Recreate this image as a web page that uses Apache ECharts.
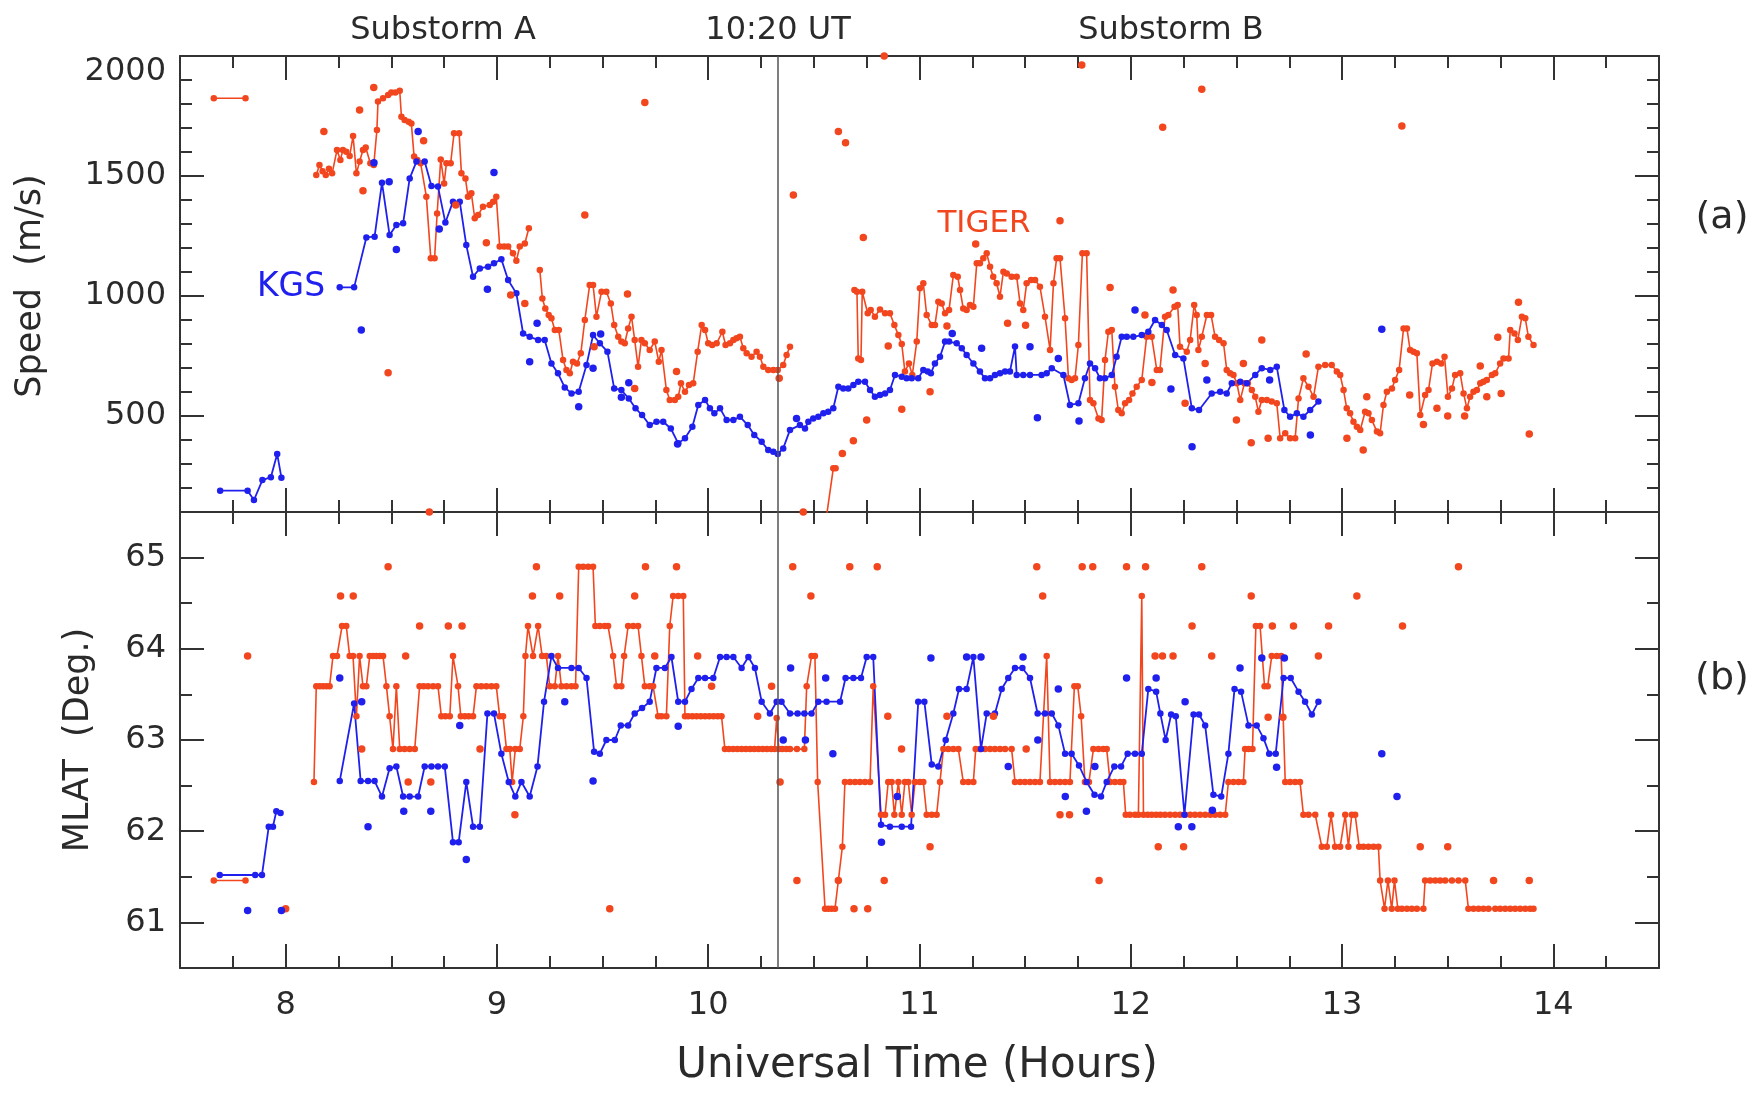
<!DOCTYPE html>
<html lang="en">
<head>
<meta charset="utf-8">
<script src="https://cdn.jsdelivr.net/npm/echarts@6/dist/echarts.min.js"></script>
<style>
    html, body { margin: 0; padding: 0; background: #fff; }
    #chart { width: 1760px; height: 1094px; }
</style>
</head>
<body>
<div id="chart"></div>
<script>
    // tick labels
    const xTicks = [8, 9, 10, 11, 12, 13, 14];
    const speedTicks = [500, 1000, 1500, 2000];
    const mlatTicks = [61, 62, 63, 64, 65];
    const onsetTime = 10.333; // 10:20 UT

    // (a) speed, TIGER radar: connected trace (null = gap) and loose points
    const tigerSpeedTrace = [
        [7.66, 1824], [7.81, 1824], null,
        [8.145, 1504], [8.16, 1546], [8.175, 1520], [8.19, 1504], [8.205, 1530], [8.22, 1511], [8.243, 1608], [8.259, 1567],
        [8.271, 1608], [8.287, 1601], [8.303, 1583], [8.319, 1667], [8.335, 1511], [8.35, 1560], [8.366, 1608], [8.379, 1619],
        [8.401, 1553], [8.417, 1546], [8.432, 1692], [8.437, 1810], [8.461, 1824], [8.485, 1837], [8.5, 1848], [8.519, 1848],
        [8.54, 1855], [8.548, 1747], [8.563, 1733], [8.582, 1726], [8.595, 1719], [8.608, 1581], [8.623, 1567], [8.639, 1553],
        [8.666, 1414], [8.687, 1157], [8.705, 1157], [8.717, 1344], [8.734, 1569], [8.75, 1469], [8.761, 1553], [8.781, 1553],
        [8.797, 1678], [8.821, 1678], [8.832, 1511], [8.851, 1490], [8.863, 1414], [8.879, 1428], [8.895, 1324], [8.911, 1337],
        [8.934, 1372], [8.966, 1379], [8.982, 1393], [8.997, 1414], [9.013, 1206], [9.034, 1206], [9.053, 1206], [9.076, 1178],
        [9.092, 1147], [9.108, 1206], [9.132, 1219], [9.151, 1282], null,
        [9.203, 1108], [9.215, 990], [9.229, 948], [9.245, 921], [9.258, 907], [9.274, 858], [9.293, 858], [9.313, 733],
        [9.329, 692], [9.345, 678], [9.36, 726], [9.379, 719], [9.397, 761], [9.416, 900], [9.439, 1046], [9.455, 1046],
        [9.471, 914], [9.495, 1018], [9.518, 1018], [9.539, 969], [9.555, 879], [9.574, 830], [9.589, 810], [9.605, 803],
        [9.621, 865], [9.637, 914], [9.652, 817], [9.668, 705], [9.684, 817], [9.7, 803], [9.723, 775], [9.747, 810],
        [9.766, 726], [9.779, 775], [9.802, 608], [9.818, 567], [9.842, 567], [9.858, 580], [9.871, 636], [9.89, 601],
        [9.909, 629], [9.929, 636], [9.95, 768], [9.969, 879], [9.985, 858], [10.0, 803], [10.019, 796], [10.04, 803],
        [10.067, 851], [10.082, 796], [10.103, 803], [10.119, 817], [10.134, 824], [10.15, 830], [10.166, 782], [10.182, 761],
        [10.205, 747], [10.229, 768], [10.245, 747], [10.261, 705], [10.284, 692], [10.308, 692], [10.329, 692], [10.355, 712],
        [10.371, 754], [10.387, 789], null,
        [10.55, 20], [10.592, 282], [10.603, 282], null,
        [10.692, 1025], [10.704, 1018], [10.71, 740], [10.723, 733], [10.729, 1018], [10.755, 928], [10.769, 942], [10.789, 914],
        [10.813, 944], [10.837, 928], [10.86, 928], [10.881, 879], [10.9, 837], [10.916, 800], [10.931, 685], [10.95, 719],
        [10.966, 671], [10.987, 810], [11.002, 1032], [11.018, 1053], [11.034, 921], [11.058, 879], [11.073, 879], [11.089, 976],
        [11.105, 969], [11.121, 928], [11.14, 942], [11.16, 1087], [11.181, 1080], [11.192, 1025], [11.207, 948], [11.223, 942],
        [11.239, 962], [11.255, 955], [11.271, 1136], [11.286, 1136], [11.302, 1157], [11.318, 1178], [11.334, 1122], [11.349, 1080],
        [11.365, 1053], [11.381, 997], [11.397, 1101], [11.413, 1094], [11.436, 1080], [11.46, 1080], [11.476, 969], [11.491, 942],
        [11.507, 1053], [11.528, 1067], [11.547, 1067], [11.57, 1039], [11.594, 914], [11.618, 775], [11.634, 1053], [11.649, 1157],
        [11.665, 1157], [11.689, 907], [11.705, 657], [11.72, 650], [11.736, 657], [11.752, 796], [11.771, 1178], [11.791, 1178],
        [11.807, 567], [11.823, 553], [11.847, 490], [11.862, 483], [11.878, 733], [11.894, 851], [11.91, 858], [11.925, 622],
        [11.941, 525], [11.957, 511], [11.973, 553], [11.992, 567], [12.008, 594], [12.028, 622], [12.052, 650], [12.075, 830],
        [12.099, 830], [12.123, 692], [12.138, 692], [12.162, 914], [12.178, 921], [12.207, 955], [12.222, 962], [12.233, 789],
        [12.265, 768], [12.281, 817], [12.3, 962], [12.312, 921], [12.32, 775], [12.336, 830], [12.36, 921], [12.38, 921],
        [12.399, 830], [12.418, 817], [12.439, 803], [12.454, 692], [12.47, 678], [12.486, 671], [12.502, 636], [12.518, 567],
        [12.538, 636], [12.554, 636], [12.573, 608], [12.589, 580], [12.604, 518], [12.62, 567], [12.644, 567], [12.667, 560],
        [12.691, 553], [12.707, 407], [12.731, 428], [12.754, 407], [12.778, 407], [12.794, 573], [12.817, 657], [12.841, 622],
        [12.865, 580], [12.888, 705], [12.92, 712], [12.951, 712], [12.975, 685], [12.991, 671], [13.007, 608], [13.022, 532],
        [13.038, 511], [13.054, 476], [13.07, 455], [13.086, 442], [13.109, 518], [13.125, 511], [13.141, 483], [13.165, 435],
        [13.18, 428], [13.196, 546], [13.212, 601], [13.236, 615], [13.251, 650], [13.27, 692], [13.291, 865], [13.307, 865],
        [13.322, 775], [13.338, 768], [13.354, 761], [13.37, 504], [13.393, 587], [13.409, 608], [13.428, 719], [13.449, 726],
        [13.469, 719], [13.485, 747], [13.501, 580], [13.52, 615], [13.535, 671], [13.559, 678], [13.575, 594], [13.591, 532],
        [13.606, 580], [13.622, 601], [13.638, 608], [13.654, 636], [13.669, 643], [13.685, 650], [13.709, 671], [13.725, 678],
        [13.748, 719], [13.764, 740], [13.788, 740], [13.796, 858], [13.816, 844], [13.832, 817], [13.851, 914], [13.867, 907],
        [13.882, 830], [13.906, 796]
    ];
    const tigerSpeedDots = [
        [8.181, 1685], [8.35, 1775], [8.366, 1439], [8.417, 1869], [8.485, 680], [8.653, 1647], [8.68, 100], [8.805, 1379],
        [8.95, 1222], [9.065, 1004], [9.132, 969], [9.416, 1337], [9.46, 789], [9.618, 1008], [9.652, 615], [9.7, 1806],
        [9.85, 685], [10.336, 657], [10.403, 1421], [10.45, 100], [10.616, 1685], [10.65, 1639], [10.635, 344], [10.687, 397],
        [10.75, 483], [10.734, 1244], [10.833, 2000], [10.852, 792], [10.916, 528], [11.05, 601], [11.13, 875], [11.266, 1217],
        [11.417, 886], [11.502, 878], [11.665, 1314], [11.768, 1962], [11.902, 1035], [12.067, 921], [12.1, 640], [12.151, 1703],
        [12.2, 1025], [12.257, 553], [12.336, 1861], [12.352, 719], [12.5, 483], [12.533, 719], [12.57, 389], [12.62, 817],
        [12.65, 407], [12.83, 758], [13.023, 407], [13.1, 358], [13.117, 580], [13.283, 1708], [13.32, 587], [13.385, 465],
        [13.449, 532], [13.5, 500], [13.58, 500], [13.654, 708], [13.685, 580], [13.737, 828], [13.753, 594], [13.835, 974],
        [13.886, 425]
    ];

    // (a) speed, KGS radar
    const kgsSpeedTrace = [
        [7.69, 189], [7.82, 189], [7.85, 150], [7.89, 233], [7.93, 245], [7.96, 342], [7.98, 243], null,
        [8.256, 1036], [8.324, 1036], [8.382, 1244], [8.421, 1247], [8.456, 1472], [8.492, 1254], [8.524, 1296], [8.556, 1303],
        [8.587, 1490], [8.619, 1560], [8.658, 1560], [8.69, 1458], [8.721, 1456], [8.756, 1306], [8.792, 1393], [8.824, 1393],
        [8.855, 1212], [8.887, 1080], [8.919, 1115], [8.958, 1122], [8.986, 1136], [9.021, 1153], [9.053, 1067], [9.092, 1011],
        [9.124, 844], [9.155, 830], [9.195, 817], [9.226, 817], [9.258, 719], [9.289, 678], [9.321, 619], [9.353, 594],
        [9.387, 601], [9.424, 712], [9.455, 837], [9.487, 803], [9.523, 768], [9.555, 615], [9.589, 608], [9.624, 573],
        [9.656, 532], [9.687, 504], [9.723, 462], [9.755, 476], [9.787, 476], [9.823, 448], [9.858, 386], [9.89, 407],
        [9.925, 455], [9.953, 546], [9.985, 567], [10.008, 532], [10.029, 511], [10.056, 532], [10.087, 483], [10.119, 483],
        [10.15, 497], [10.187, 462], [10.218, 421], [10.253, 393], [10.284, 358], [10.308, 351], [10.329, 342], [10.355, 365],
        [10.387, 442], [10.434, 462], [10.458, 448], [10.474, 476], [10.497, 490], [10.521, 497], [10.545, 511], [10.568, 518],
        [10.592, 532], [10.616, 622], [10.639, 615], [10.663, 615], [10.687, 629], [10.71, 643], [10.742, 643], [10.766, 608],
        [10.789, 580], [10.813, 587], [10.837, 594], [10.86, 608], [10.884, 671], [10.916, 664], [10.939, 657], [10.963, 657],
        [10.994, 657], [11.018, 692], [11.039, 685], [11.054, 678], [11.073, 719], [11.097, 747], [11.121, 810], [11.14, 810],
        [11.176, 803], [11.2, 782], [11.223, 754], [11.255, 719], [11.286, 685], [11.31, 657], [11.334, 657], [11.357, 671],
        [11.381, 678], [11.405, 685], [11.428, 685], [11.452, 790], [11.46, 671], [11.491, 671], [11.523, 671], [11.578, 671],
        [11.602, 678], [11.626, 699], [11.681, 671], [11.712, 546], [11.752, 553], [11.783, 657], [11.807, 719], [11.831, 699],
        [11.854, 657], [11.878, 657], [11.91, 671], [11.933, 747], [11.957, 830], [11.981, 830], [12.012, 830], [12.052, 837],
        [12.083, 851], [12.115, 900], [12.147, 879], [12.17, 858], [12.21, 754], [12.249, 740], [12.289, 532], [12.323, 525],
        [12.383, 594], [12.423, 601], [12.454, 594], [12.478, 636], [12.518, 643], [12.549, 636], [12.589, 671], [12.62, 699],
        [12.66, 692], [12.691, 705], [12.727, 525], [12.754, 497], [12.786, 511], [12.817, 497], [12.849, 525], [12.888, 560]
    ];
    const kgsSpeedDots = [
        [8.358, 858], [8.418, 1555], [8.49, 1476], [8.524, 1194], [8.627, 1685], [8.727, 1279], [8.986, 1515], [8.955, 1028],
        [9.155, 726], [9.19, 886], [9.387, 539], [9.455, 699], [9.491, 842], [9.589, 578], [9.624, 639], [9.855, 383],
        [10.418, 490], [11.155, 844], [11.294, 782], [11.523, 789], [11.558, 493], [11.657, 740], [11.755, 479], [12.02, 942],
        [12.19, 612], [12.29, 372], [12.36, 650], [12.657, 650], [12.85, 421], [13.188, 861]
    ];

    // (b) MLAT, TIGER radar
    const tigerMlatTrace = [
        [7.66, 61.46], [7.81, 61.46], null,
        [8.134, 62.54], [8.145, 63.59], [8.161, 63.59], [8.177, 63.59], [8.193, 63.59], [8.208, 63.59], [8.224, 63.92], [8.243, 63.92],
        [8.267, 64.25], [8.287, 64.25], [8.303, 63.92], [8.319, 63.92], [8.335, 63.26], [8.35, 63.92], [8.366, 63.59], [8.382, 63.59],
        [8.398, 63.92], [8.414, 63.92], [8.429, 63.92], [8.445, 63.92], [8.461, 63.92], [8.477, 63.59], [8.492, 63.26], [8.508, 62.9],
        [8.524, 63.59], [8.54, 62.9], [8.563, 62.9], [8.587, 62.9], [8.611, 62.9], [8.634, 63.59], [8.653, 63.59], [8.674, 63.59],
        [8.698, 63.59], [8.721, 63.59], [8.737, 63.26], [8.756, 63.26], [8.777, 63.26], [8.792, 63.92], [8.816, 63.59], [8.829, 63.26],
        [8.848, 63.26], [8.866, 63.26], [8.887, 63.26], [8.903, 63.59], [8.926, 63.59], [8.95, 63.59], [8.974, 63.59], [8.997, 63.59],
        [9.013, 63.26], [9.029, 63.26], [9.045, 62.9], [9.061, 62.9], [9.072, 62.54], [9.087, 62.9], [9.108, 62.9], [9.125, 63.26],
        [9.135, 63.92], [9.147, 64.25], [9.171, 63.92], [9.195, 64.25], [9.214, 63.92], [9.234, 63.92], [9.25, 63.59], [9.274, 63.59],
        [9.289, 63.92], [9.305, 63.59], [9.329, 63.59], [9.353, 63.59], [9.372, 63.59], [9.387, 64.9], [9.408, 64.9], [9.432, 64.9],
        [9.455, 64.9], [9.466, 64.25], [9.487, 64.25], [9.51, 64.25], [9.526, 64.25], [9.55, 63.92], [9.566, 63.59], [9.589, 63.59],
        [9.602, 63.92], [9.621, 64.25], [9.645, 64.25], [9.668, 64.25], [9.684, 63.92], [9.7, 63.59], [9.723, 63.59], [9.739, 63.59],
        [9.763, 63.26], [9.779, 63.26], [9.802, 63.26], [9.818, 64.25], [9.834, 64.58], [9.858, 64.58], [9.882, 64.58], [9.89, 63.26],
        [9.905, 63.26], [9.925, 63.26], [9.945, 63.26], [9.965, 63.26], [9.985, 63.26], [10.005, 63.26], [10.025, 63.26], [10.045, 63.26],
        [10.063, 63.26], [10.079, 62.9], [10.098, 62.9], [10.118, 62.9], [10.138, 62.9], [10.158, 62.9], [10.178, 62.9], [10.198, 62.9],
        [10.218, 62.9], [10.238, 62.9], [10.258, 62.9], [10.278, 62.9], [10.298, 62.9], [10.314, 62.9], [10.324, 63.24], [10.334, 62.9],
        [10.35, 62.9], [10.37, 62.9], [10.387, 62.9], [10.42, 62.9], [10.455, 62.9], [10.466, 63.59], [10.489, 63.92], [10.505, 63.92],
        [10.518, 62.54], [10.553, 61.15], [10.568, 61.15], [10.584, 61.15], [10.6, 61.15], [10.635, 61.83], [10.647, 62.54], [10.671, 62.54],
        [10.695, 62.54], [10.718, 62.54], [10.742, 62.54], [10.766, 62.54], [10.781, 63.59], [10.818, 62.18], [10.837, 62.18], [10.852, 62.54],
        [10.868, 62.54], [10.881, 62.18], [10.9, 62.54], [10.916, 62.18], [10.931, 62.54], [10.947, 62.54], [10.963, 62.18], [10.979, 62.54],
        [11.002, 62.54], [11.018, 62.54], [11.034, 62.18], [11.058, 62.18], [11.081, 62.18], [11.097, 62.54], [11.113, 62.9], [11.136, 62.9],
        [11.16, 62.9], [11.184, 62.9], [11.207, 62.54], [11.231, 62.54], [11.255, 62.54], [11.266, 62.9], [11.286, 62.9], [11.31, 62.9],
        [11.334, 62.9], [11.357, 62.9], [11.381, 62.9], [11.405, 62.9], [11.436, 62.9], [11.452, 62.54], [11.476, 62.54], [11.499, 62.54],
        [11.523, 62.54], [11.547, 62.54], [11.57, 62.54], [11.602, 63.92], [11.618, 62.54], [11.641, 62.54], [11.665, 62.54], [11.689, 62.54],
        [11.712, 62.54], [11.733, 63.59], [11.749, 63.59], [11.765, 63.26], [11.783, 62.54], [11.802, 62.54], [11.823, 62.9], [11.847, 62.9],
        [11.87, 62.9], [11.886, 62.9], [11.902, 62.54], [11.925, 62.54], [11.949, 62.54], [11.965, 62.54], [11.976, 62.18], [11.996, 62.18],
        [12.02, 62.18], [12.036, 62.18], [12.052, 64.58], [12.06, 62.18], [12.08, 62.18], [12.099, 62.18], [12.12, 62.18], [12.14, 62.18],
        [12.162, 62.18], [12.186, 62.18], [12.21, 62.18], [12.233, 62.18], [12.257, 62.18], [12.281, 62.18], [12.304, 62.18], [12.328, 62.18],
        [12.352, 62.18], [12.376, 62.18], [12.399, 62.18], [12.423, 62.18], [12.447, 62.18], [12.462, 62.54], [12.486, 62.54], [12.51, 62.54],
        [12.533, 62.54], [12.541, 62.9], [12.557, 62.9], [12.576, 62.9], [12.592, 64.25], [12.612, 64.25], [12.633, 63.59], [12.648, 63.59],
        [12.667, 63.92], [12.691, 63.92], [12.712, 63.92], [12.731, 62.54], [12.754, 62.54], [12.778, 62.54], [12.801, 62.54], [12.817, 62.18],
        [12.841, 62.18], [12.873, 62.18], [12.904, 61.83], [12.928, 61.83], [12.948, 62.18], [12.967, 61.83], [12.991, 61.83], [13.015, 62.18],
        [13.03, 61.83], [13.046, 62.18], [13.062, 62.18], [13.081, 61.83], [13.101, 61.83], [13.125, 61.83], [13.149, 61.83], [13.172, 61.83],
        [13.18, 61.46], [13.201, 61.15], [13.217, 61.46], [13.235, 61.15], [13.248, 61.46], [13.264, 61.15], [13.283, 61.15], [13.307, 61.15],
        [13.33, 61.15], [13.354, 61.15], [13.385, 61.15], [13.393, 61.46], [13.417, 61.46], [13.441, 61.46], [13.464, 61.46], [13.488, 61.46],
        [13.52, 61.46], [13.551, 61.46], [13.583, 61.46], [13.598, 61.15], [13.622, 61.15], [13.646, 61.15], [13.669, 61.15], [13.693, 61.15],
        [13.725, 61.15], [13.748, 61.15], [13.772, 61.15], [13.796, 61.15], [13.819, 61.15], [13.843, 61.15], [13.867, 61.15], [13.89, 61.15],
        [13.906, 61.15]
    ];
    const tigerMlatDots = [
        [7.82, 63.92], [8.0, 61.15], [8.26, 64.58], [8.32, 64.58], [8.36, 62.9], [8.485, 64.9], [8.568, 63.92], [8.58, 62.54],
        [8.634, 64.25], [8.687, 62.54], [8.77, 64.25], [8.835, 64.25], [8.92, 62.9], [9.085, 62.18], [9.168, 64.58], [9.187, 64.9],
        [9.297, 64.58], [9.534, 61.15], [9.652, 64.58], [9.703, 64.9], [9.747, 63.92], [9.85, 64.9], [9.95, 63.92], [10.016, 63.59],
        [10.234, 63.26], [10.3, 63.59], [10.34, 62.54], [10.4, 64.9], [10.42, 61.46], [10.486, 64.58], [10.616, 61.46], [10.67, 64.9],
        [10.69, 61.15], [10.755, 61.15], [10.8, 64.9], [10.833, 61.46], [10.85, 63.26], [10.915, 62.9], [11.05, 61.83], [11.13, 63.26],
        [11.35, 63.26], [11.505, 62.9], [11.555, 64.9], [11.583, 64.58], [11.665, 62.18], [11.71, 62.18], [11.77, 64.9], [11.82, 64.9],
        [11.85, 61.46], [11.98, 64.9], [12.07, 64.9], [12.115, 63.92], [12.13, 61.83], [12.15, 63.92], [12.2, 63.92], [12.25, 61.83],
        [12.29, 64.25], [12.336, 64.9], [12.383, 63.92], [12.57, 64.58], [12.65, 63.25], [12.67, 64.25], [12.72, 63.25], [12.77, 64.25],
        [12.888, 63.92], [12.936, 64.25], [13.07, 64.58], [13.286, 64.25], [13.37, 61.83], [13.5, 61.83], [13.551, 64.9], [13.717, 61.46],
        [13.886, 61.46]
    ];

    // (b) MLAT, KGS radar
    const kgsMlatTrace = [
        [7.688, 61.52], [7.856, 61.52], [7.888, 61.52], [7.92, 62.05], [7.94, 62.05], [7.956, 62.22], [7.976, 62.2], null,
        [8.256, 62.55], [8.324, 63.4], [8.355, 62.55], [8.39, 62.55], [8.421, 62.55], [8.456, 62.38], [8.492, 62.69], [8.524, 62.71],
        [8.556, 62.38], [8.587, 62.38], [8.627, 62.38], [8.658, 62.71], [8.69, 62.71], [8.721, 62.71], [8.753, 62.71], [8.792, 61.88],
        [8.819, 61.88], [8.855, 62.54], [8.887, 62.05], [8.919, 62.05], [8.955, 63.29], [8.986, 63.29], [9.021, 62.85], [9.056, 62.54],
        [9.087, 62.38], [9.116, 62.54], [9.155, 62.38], [9.192, 62.71], [9.223, 63.42], [9.258, 63.92], [9.289, 63.79], [9.353, 63.79],
        [9.387, 63.79], [9.424, 63.68], [9.46, 62.87], [9.487, 62.85], [9.518, 63.0], [9.558, 63.0], [9.586, 63.16], [9.621, 63.16],
        [9.652, 63.29], [9.687, 63.35], [9.723, 63.42], [9.755, 63.79], [9.795, 63.79], [9.826, 63.91], [9.858, 63.42], [9.89, 63.42],
        [9.921, 63.56], [9.953, 63.68], [9.985, 63.68], [10.024, 63.68], [10.056, 63.91], [10.087, 63.91], [10.119, 63.91], [10.158, 63.79],
        [10.19, 63.91], [10.221, 63.79], [10.253, 63.42], [10.292, 63.29], [10.324, 63.42], [10.347, 63.42], [10.387, 63.29], [10.423, 63.29],
        [10.455, 63.29], [10.489, 63.29], [10.521, 63.42], [10.56, 63.42], [10.624, 63.42], [10.65, 63.68], [10.687, 63.68], [10.723, 63.68],
        [10.75, 63.91], [10.781, 63.91], [10.818, 62.07], [10.86, 62.05], [10.916, 62.05], [10.96, 62.05], [10.994, 63.42], [11.023, 63.42],
        [11.058, 62.73], [11.089, 62.71], [11.124, 63.0], [11.16, 63.29], [11.187, 63.56], [11.223, 63.56], [11.255, 63.91], [11.291, 62.9],
        [11.318, 63.29], [11.357, 63.29], [11.389, 63.56], [11.42, 63.68], [11.452, 63.79], [11.487, 63.79], [11.523, 63.68], [11.559, 63.29],
        [11.594, 63.29], [11.626, 63.29], [11.657, 63.16], [11.689, 62.85], [11.72, 62.85], [11.755, 62.72], [11.791, 62.54], [11.828, 62.4],
        [11.859, 62.38], [11.886, 62.54], [11.922, 62.71], [11.954, 62.71], [11.985, 62.85], [12.02, 62.85], [12.052, 62.85], [12.083, 63.56],
        [12.12, 63.53], [12.14, 63.29], [12.165, 63.0], [12.191, 63.28], [12.213, 63.26], [12.254, 62.18], [12.297, 63.28], [12.323, 63.28],
        [12.352, 63.16], [12.391, 62.4], [12.428, 62.38], [12.462, 62.85], [12.491, 63.56], [12.522, 63.53], [12.557, 63.16], [12.596, 63.16],
        [12.628, 63.02], [12.655, 62.85], [12.686, 62.85], [12.723, 63.68], [12.757, 63.68], [12.794, 63.53], [12.825, 63.42], [12.857, 63.28],
        [12.888, 63.42]
    ];
    const kgsMlatDots = [
        [7.82, 61.13], [7.98, 61.13], [8.256, 63.68], [8.36, 63.42], [8.39, 62.05], [8.559, 62.22], [8.687, 62.22], [8.824, 63.16],
        [8.855, 61.69], [9.321, 63.42], [9.455, 62.55], [9.858, 63.15], [10.355, 63.0], [10.39, 63.79], [10.46, 63.0], [10.556, 63.68],
        [10.59, 62.85], [10.82, 61.88], [10.895, 62.38], [11.054, 63.9], [11.223, 63.91], [11.291, 63.91], [11.42, 62.71], [11.49, 63.91],
        [11.56, 63.0], [11.657, 63.56], [11.69, 62.38], [11.79, 62.22], [11.83, 62.71], [11.98, 63.68], [12.12, 63.68], [12.225, 62.05],
        [12.257, 63.42], [12.289, 62.05], [12.386, 62.23], [12.517, 63.79], [12.62, 63.9], [12.69, 62.7], [12.727, 63.9], [13.188, 62.85],
        [13.26, 62.38]
    ];

    const RED = '#f2461e';
    const BLUE = '#2020ee';
    const INK = '#2a2a2a';
    const FONT = 'DejaVu Sans';
    const frame = { color: '#333', width: 2 };

    // null in a trace means "pen up"
    const traceData = pts => pts.map(p => p === null ? [null, null] : p);

    // 4 x axes per panel: short quarter-hour ticks + long hour ticks, bottom and top
    function timeAxes(grid, withLabels) {
        const common = { type: 'value', gridIndex: grid, min: 7.5, max: 14.5, splitLine: { show: false } };
        const out = [];
        ['bottom', 'top'].forEach(pos => {
            out.push({
                ...common, position: pos, interval: 0.25,
                axisLine: { onZero: false, lineStyle: frame },
                axisTick: { inside: true, length: 12, lineStyle: frame },
                axisLabel: (withLabels && pos === 'bottom') ? {
                    color: INK, fontSize: 32, fontFamily: FONT, margin: 22,
                    formatter: v => xTicks.includes(v) ? String(v) : ''
                } : { show: false }
            });
            out.push({
                ...common, position: pos,
                axisLine: { show: false },
                axisTick: { inside: true, length: 24, customValues: xTicks, lineStyle: frame },
                axisLabel: { show: false }
            });
        });
        return out;
    }

    // 4 y axes per panel: short minor ticks + long labelled ticks, left and right
    function valueAxes(grid, min, max, step, ticks) {
        const common = { type: 'value', gridIndex: grid, min: min, max: max, splitLine: { show: false } };
        const out = [];
        ['left', 'right'].forEach(pos => {
            out.push({
                ...common, position: pos, interval: step,
                axisLine: { onZero: false, lineStyle: frame },
                axisTick: { inside: true, length: 12, lineStyle: frame },
                axisLabel: pos === 'left' ? {
                    color: INK, fontSize: 32, fontFamily: FONT, margin: 14,
                    verticalAlignMaxLabel: 'top',
                    formatter: v => ticks.includes(v) ? String(v) : ''
                } : { show: false }
            });
            out.push({
                ...common, position: pos,
                axisLine: { show: false },
                axisTick: { inside: true, length: 24, customValues: ticks, lineStyle: frame },
                axisLabel: { show: false }
            });
        });
        return out;
    }

    function trace(name, data, color, xi, yi, width) {
        return {
            name, type: 'line', xAxisIndex: xi, yAxisIndex: yi,
            data: traceData(data), connectNulls: false,
            symbol: 'circle', symbolSize: 6.5, showAllSymbol: true,
            itemStyle: { color, opacity: 1 }, lineStyle: { color, width: width },
            clip: true, z: 2
        };
    }
    function dots(name, data, color, xi, yi) {
        return {
            name, type: 'scatter', xAxisIndex: xi, yAxisIndex: yi,
            data, symbol: 'circle', symbolSize: 7.5,
            itemStyle: { color, opacity: 1 }, clip: true, z: 3
        };
    }
    const onsetLine = {
        silent: true, symbol: ['none', 'none'], label: { show: false },
        lineStyle: { color: '#555', width: 1.5, type: 'solid' },
        data: [{ xAxis: onsetTime }]
    };

    function label(text, x, y, size, color, rotate) {
        return {
            type: 'text', x, y, rotation: rotate ? Math.PI / 2 : 0,
            style: {
                text, fill: color, fontSize: size, fontFamily: FONT,
                align: 'center', verticalAlign: 'middle',
                textAlign: 'center', textVerticalAlign: 'middle'
            }
        };
    }

    const speedRed = trace('TIGER speed', tigerSpeedTrace, RED, 0, 0, 1.6);
    speedRed.markLine = onsetLine;
    const mlatRed = trace('TIGER MLAT', tigerMlatTrace, RED, 4, 4, 1.6);
    mlatRed.markLine = onsetLine;

    const chart = echarts.init(document.getElementById('chart'));
    chart.setOption({
        animation: false,
        backgroundColor: '#fff',
        grid: [
            { left: 180, top: 56, width: 1479, height: 456 },
            { left: 180, top: 512, width: 1479, height: 456 }
        ],
        xAxis: [...timeAxes(0, false), ...timeAxes(1, true)],
        yAxis: [...valueAxes(0, 100, 2000, 100, speedTicks), ...valueAxes(1, 60.5, 65.5, 0.5, mlatTicks)],
        series: [
            speedRed,
            dots('TIGER speed pts', tigerSpeedDots, RED, 0, 0),
            trace('KGS speed', kgsSpeedTrace, BLUE, 0, 0, 1.8),
            dots('KGS speed pts', kgsSpeedDots, BLUE, 0, 0),
            mlatRed,
            dots('TIGER MLAT pts', tigerMlatDots, RED, 4, 4),
            trace('KGS MLAT', kgsMlatTrace, BLUE, 4, 4, 1.8),
            dots('KGS MLAT pts', kgsMlatDots, BLUE, 4, 4)
        ],
        graphic: [
            label('Substorm A', 443, 31, 32, INK),
            label('10:20 UT', 778, 31, 32, INK),
            label('Substorm B', 1171, 31, 32, INK),
            label('Speed  (m/s)', 31, 286, 35, INK, true),
            label('MLAT  (Deg.)', 79, 740, 35, INK, true),
            label('Universal Time (Hours)', 917, 1066, 42, INK),
            label('(a)', 1722, 218, 38, INK),
            label('(b)', 1722, 679, 38, INK),
            label('KGS', 291, 287, 33, BLUE),
            label('TIGER', 984, 224, 31, RED)
        ]
    });
</script>
</body>
</html>
